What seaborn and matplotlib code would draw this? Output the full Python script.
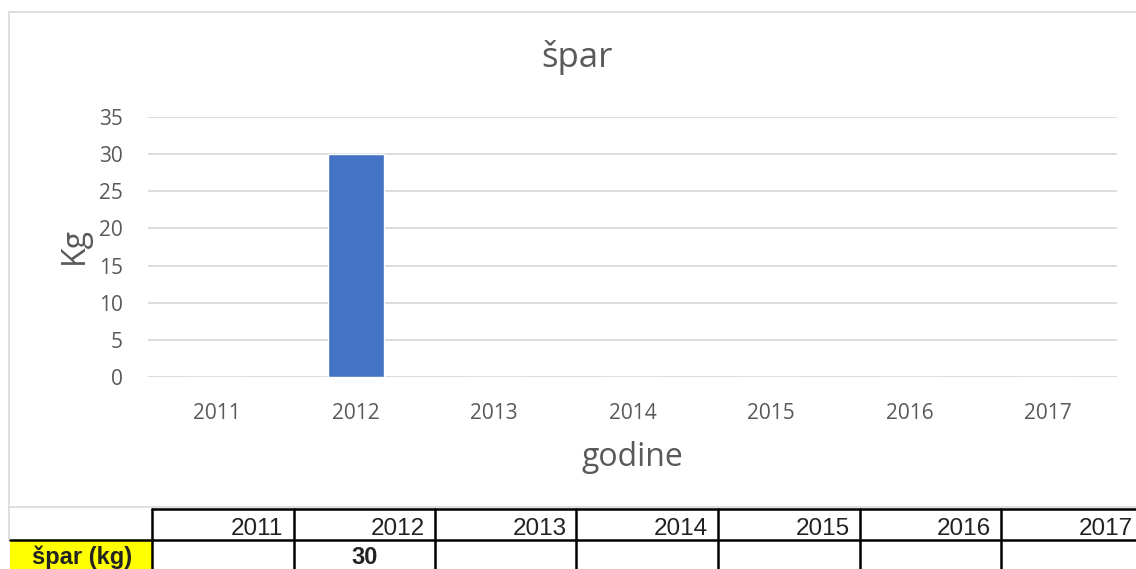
import numpy as np
import pandas as pd
import matplotlib
matplotlib.use("Agg")
import matplotlib.pyplot as plt
from matplotlib.patches import Rectangle
from matplotlib.lines import Line2D
import seaborn as sns

# ---- data ----
years = ["2011", "2012", "2013", "2014", "2015", "2016", "2017"]
values = [None, 30, None, None, None, None, None]
title = "špar"
xlabel = "godine"
ylabel = "Kg"
row_label = "špar (kg)"
yticks = [0, 5, 10, 15, 20, 25, 30, 35]

sns.set_theme(style="white")
plt.rcParams["font.family"] = ["Open Sans", "DejaVu Sans"]

W, H = 1136, 569
fig = plt.figure(figsize=(W / 100, H / 100), dpi=100)

def fx(px):
    return px / W

def fy(py):
    return 1 - py / H

# chart frame (extends past right edge)
fig.add_artist(Rectangle((fx(9), fy(507)), fx(1200) - fx(9), fy(12) - fy(507),
                         transform=fig.transFigure, fill=False,
                         edgecolor="#D9D9D9", linewidth=1.2))

ax = fig.add_axes([fx(148), fy(377), fx(1117) - fx(148), fy(117) - fy(377)])
df = pd.DataFrame({"year": years, "kg": [v if v is not None else 0 for v in values]})
sns.barplot(data=df, x="year", y="kg", color="#4472C4", width=0.405,
            saturation=1, ax=ax, order=years)
ax.set_ylim(0, 35)
ax.set_yticks(yticks)
ax.set_xlim(-0.5, len(years) - 0.5)
for s in ax.spines.values():
    s.set_visible(False)
ax.grid(axis="y", color="#D9D9D9", linewidth=1.3)
ax.set_axisbelow(True)
ax.tick_params(axis="both", length=0, labelsize=15, colors="#595959")
ax.tick_params(axis="y", pad=18)
ax.tick_params(axis="x", pad=19)

ax.set_xlabel(xlabel, fontsize=23, color="#595959", va="center")
ax.xaxis.set_label_coords(0.5, (377 - 457) / 260)
ax.set_ylabel(ylabel, fontsize=23, color="#595959", va="center", ha="center")
ax.yaxis.set_label_coords((74 - 148) / 969, (377 - 246) / 260)

fig.text(fx(577), fy(57), title, fontsize=25, color="#595959",
         ha="center", va="center")

# ---- data table below chart ----
col_left = 152
col_w = 141.5
row_top, row_mid, row_bot = 509, 540, 580
lw = 1.8
tfont = ["Liberation Sans", "DejaVu Sans"]

# yellow label cell
fig.add_artist(Rectangle((fx(10), fy(row_bot)), fx(col_left) - fx(10), fy(row_mid) - fy(row_bot),
                         transform=fig.transFigure, facecolor="#FFFF00", edgecolor="none"))
# light gray grid for first header cell
fig.add_artist(Line2D([fx(9), fx(9)], [fy(507), fy(row_mid)], transform=fig.transFigure,
                      color="#D9D9D9", linewidth=1.2))

# horizontal lines
fig.add_artist(Line2D([fx(col_left), fx(1200)], [fy(row_top), fy(row_top)],
                      transform=fig.transFigure, color="black", linewidth=lw))
fig.add_artist(Line2D([fx(10), fx(1200)], [fy(row_mid), fy(row_mid)],
                      transform=fig.transFigure, color="black", linewidth=lw))
# vertical lines
for i in range(len(years) + 1):
    x = col_left + i * col_w
    fig.add_artist(Line2D([fx(x), fx(x)], [fy(row_top), fy(row_bot)],
                          transform=fig.transFigure, color="black", linewidth=lw))

for i, (yr, v) in enumerate(zip(years, values)):
    x0 = col_left + i * col_w
    fig.text(fx(x0 + col_w - 10), fy(535), yr, fontsize=17.5, family=tfont,
             color="#222222", ha="right", va="baseline")
    if v is not None:
        fig.text(fx(x0 + col_w / 2), fy(564), f"{v:g}", fontsize=17, family=tfont,
                 weight="bold", color="#222222", ha="center", va="baseline")

fig.text(fx(82), fy(564), row_label, fontsize=17, family=tfont, weight="bold",
         color="#222222", ha="center", va="baseline")

fig.savefig("out.png", dpi=100)
